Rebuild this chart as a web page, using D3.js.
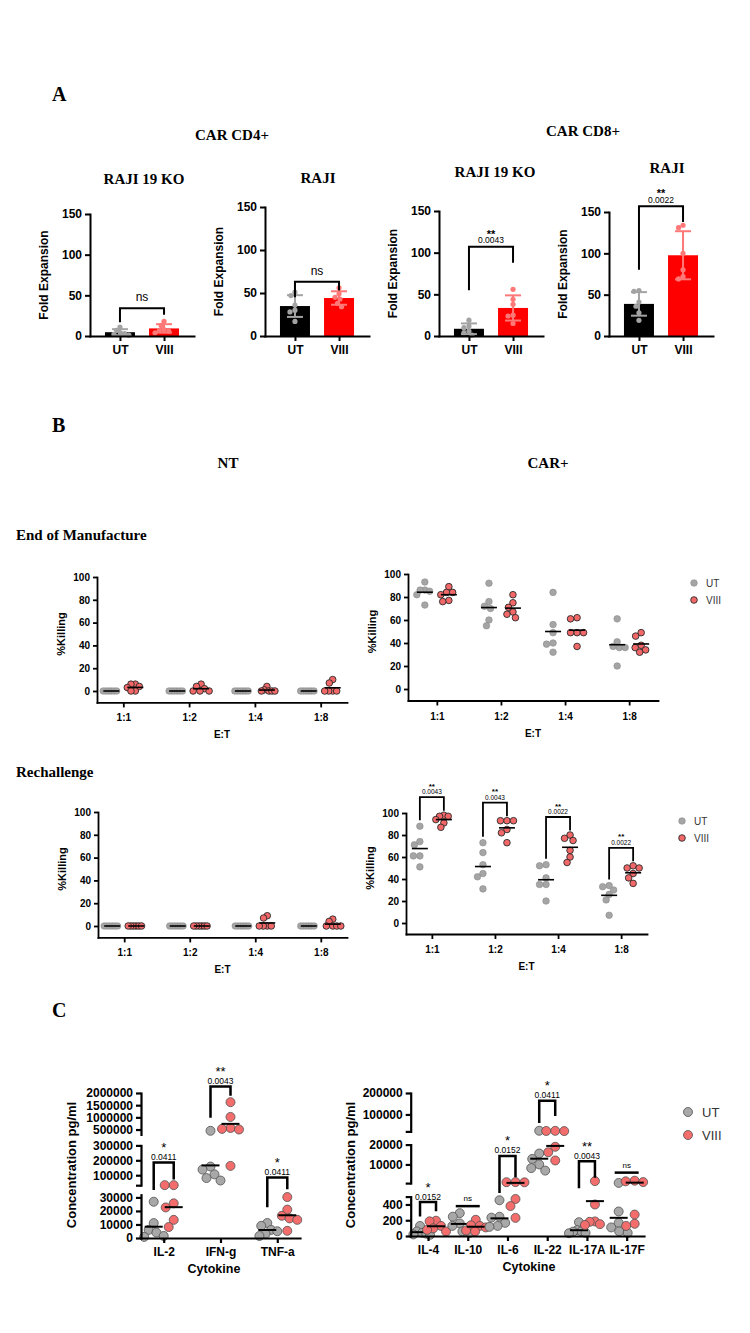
<!DOCTYPE html>
<html><head><meta charset="utf-8">
<script src="https://cdn.jsdelivr.net/npm/d3@7"></script>
<style>body{margin:0;background:#fff}</style>
</head><body>
<script>
// ================= DATA =================
// Panel A : fold expansion
const groupsA = ["UT", "VIII"];
const foldTicks = [0, 50, 100, 150];
const cd4KoUT = [11, 7, 4, 3, 2, 1];
const cd4KoVIII = [18, 13, 8, 7, 6, 4];
const cd4RajiUT = [51, 47, 36, 30, 28, 17];
const cd4RajiVIII = [56, 49, 45, 43, 38, 34];
const cd8KoUT = [19, 12, 10, 6, 4, 1];
const cd8KoVIII = [56, 44, 38, 25, 24, 15];
const cd8RajiUT = [55, 54, 41, 36, 28, 19];
const cd8RajiVIII = [134, 131, 100, 80, 72, 69];
const sigA = [{stars: "ns", p: ""}, {stars: "ns", p: ""}, {stars: "**", p: "0.0043"}, {stars: "**", p: "0.0022"}];
// bracket levels (fold units): top, UT leg end, VIII leg end
const bracketA = [[34, 17, 26], [63, 45, 53], [107, 55, 88], [157, 80, 138]];

// Panel B : % killing
const ratios = ["1:1", "1:2", "1:4", "1:8"];
const killTicks = [0, 20, 40, 60, 80, 100];
const eomNtUT = [[0,0,0,0,0,0],[0,0,0,0,0,0],[0,0,0,0,0,0],[0,0,0,0,0,0]];
const eomNtVIII = [[6,6,4,3,0,0],[6,4,2,0,0,0],[4,1,0,0,0,0],[10,7,0,0,0,0]];
const eomCarUT = [[93,86,86,85,82,73],[92,76,72,70,60,55],[84,56,49,40,39,32],[61,41,37,36,36,20]];
const eomCarVIII = [[89,84,84,82,77,76],[82,75,71,67,65,62],[62,61,49,49,49,37],[49,46,38,36,34,32]];
const reNtUT = [[0,0,0,0,0,0],[0,0,0,0,0,0],[0,0,0,0,0,0],[0,0,0,0,0,0]];
const reNtVIII = [[0,0,0,0,0,0],[0,0,0,0,0,0],[9,7,0,0,0,0],[6,4,0,0,0,0]];
const reCarUT = [[88,74,71,61,61,51],[73,64,53,45,42,31],[53,52,41,35,35,20],[34,33,30,26,21,7]];
const reCarVIII = [[98,97,97,94,91,87],[93,93,93,85,82,73],[80,77,75,66,60,55],[52,50,50,45,41,36]];
const sigReCarStars = ["**", "**", "**", "**"];
const sigReCarP = ["0.0043", "0.0043", "0.0022", "0.0022"];

// Panel C : cytokines
const cytoLeft = ["IL-2", "IFN-g", "TNF-a"];
const cLeftUT = [[26800,11000,6000,4000,1500,800],[448000,158000,137500,106000,81000,64600],[11100,9000,6000,5000,3000,1500]];
const cLeftVIII = [[33500,33500,25600,22600,13400,8100],[1624000,1017000,565000,526000,500000,162500],[30250,21000,16400,14500,13400,5300]];
const cLeftBreaks = [[0, 32000], [33000, 300000], [300000, 2000000]];
const cLeftTicks = [[0,10000,20000,30000],[100000,200000,300000],[500000,1000000,1500000,2000000]];
const cLeftSig = [{stars:"*", p:"0.0411", top:186000, l:32500, r:70600},
                  {stars:"**", p:"0.0043", top:2270000, l:980000, r:1885000},
                  {stars:"*", p:"0.0411", top:85300, l:22760, r:32570}];
const cytoRight = ["IL-4", "IL-10", "IL-6", "IL-22", "IL-17A", "IL-17F"];
const cRightUT = [[128,58,40,30,20,15],[290,245,160,128,58,39],[454,245,233,167,128,116],[24000,15500,12800,10000,8150,6900],[175,75,60,55,40,35],[700,311,167,109,58,39]];
const cRightVIII = [[194,186,128,97,78,58],[206,136,128,109,70,58],[1100,1050,1000,470,380,230],[23500,23000,22500,18900,16150,12000],[1600,400,185,180,150,140],[1800,1500,1100,272,155,128]];
const cRightBreaks = [[0, 500], [600, 20000], [21000, 200000]];
const cRightTicks = [[0,200,400],[10000,20000],[100000,200000]];
const cRightSig = [{stars:"*", p:"0.0152", top:430, l:246, r:313},
                   {stars:"ns", p:"", top:379},
                   {stars:"*", p:"0.0152", top:14260, l:527, r:3600},
                   {stars:"*", p:"0.0411", top:164300, l:59700, r:92400},
                   {stars:"**", p:"0.0043", top:11670, l:561, r:3330},
                   {stars:"ns", p:"", top:5880}];
const legendLabels = ["UT", "VIII"];

// ================= HELPERS =================
const SERIF = "'Liberation Serif','Times New Roman',serif";
const SANS = "'Liberation Sans',Arial,sans-serif";
const svg = d3.select("body").append("svg").attr("width", 750).attr("height", 1333);

function txt(x, y, s, o = {}) {
  return svg.append("text").attr("x", x).attr("y", y).text(s)
    .attr("font-family", o.family || SANS).attr("font-size", o.size || 12)
    .attr("font-weight", o.weight || "normal").attr("text-anchor", o.anchor || "start")
    .attr("fill", o.fill || "#000");
}
function vtxt(x, y, s, o = {}) {
  return svg.append("text").attr("transform", `translate(${x},${y}) rotate(-90)`).text(s)
    .attr("font-family", SANS).attr("font-size", o.size || 12).attr("font-weight", "bold")
    .attr("text-anchor", "middle").attr("fill", "#000");
}
// stars + p-value as one text element (two lines)
function sigText(x, top, stars, p, o) {
  const t = svg.append("text").attr("text-anchor", "middle").attr("font-family", SANS).attr("fill", "#000");
  t.append("tspan").attr("x", x).attr("y", top - o.sDy).attr("font-size", o.sSize)
    .attr("font-weight", o.sWeight || "bold").text(stars);
  t.append("tspan").attr("x", x).attr("y", top - o.pDy).attr("font-size", o.pSize)
    .attr("font-weight", "normal").text(p);
}
function swarm(vals, yf, r, maxOff) {
  const pts = vals.map(v => ({v, y: yf(v), x: 0}));
  const order = pts.slice().sort((a, b) => a.y - b.y);
  const placed = [];
  const d2 = (2 * r) * (2 * r) * 0.9;
  order.forEach(p => {
    let off = 0;
    for (let s = 0; s < 400; s++) {
      const o = (s % 2 === 0 ? 1 : -1) * Math.ceil(s / 2) * 0.5;
      if (placed.every(q => (o - q.x) ** 2 + (p.y - q.y) ** 2 >= d2)) { off = o; break; }
    }
    p.x = off; placed.push(p);
  });
  const m = d3.max(pts, p => Math.abs(p.x)) || 0;
  if (m > maxOff) pts.forEach(p => p.x *= maxOff / m);
  return pts;
}
function styleAxis(g, fs, sw) {
  g.attr("font-family", null).attr("font-size", null);
  g.selectAll("path.domain").attr("stroke", "#000").attr("stroke-width", sw).attr("stroke-linecap", "square");
  g.selectAll(".tick line").attr("stroke", "#000").attr("stroke-width", sw);
  g.selectAll(".tick text").attr("font-family", SANS).attr("font-size", fs).attr("font-weight", "bold").attr("fill", "#000");
}
function piecewise(breaks, ranges) {
  const sc = breaks.map((b, i) => d3.scaleLinear().domain(b).range(ranges[i]));
  return v => {
    for (let i = 0; i < breaks.length; i++) {
      if (v <= breaks[i][1] || i === breaks.length - 1) {
        if (v >= breaks[i][0] || i === 0) return sc[i](v);
        return d3.scaleLinear().domain([breaks[i - 1][1], breaks[i][0]]).range([ranges[i - 1][1], ranges[i][0]])(v);
      }
    }
  };
}

// ================= PANEL A =================
txt(52, 101, "A", {family: SERIF, size: 20, weight: "bold"});
txt(232, 140, "CAR CD4+", {family: SERIF, size: 15, weight: "bold", anchor: "middle"});
txt(583, 136, "CAR CD8+", {family: SERIF, size: 15, weight: "bold", anchor: "middle"});

const layoutA = [
  {title: "RAJI 19 KO", tx: 144, ty: 184, x0: 90, yTop: 214, yZero: 336, ut: cd4KoUT, viii: cd4KoVIII},
  {title: "RAJI", tx: 318, ty: 183, x0: 265, yTop: 207, yZero: 336, ut: cd4RajiUT, viii: cd4RajiVIII},
  {title: "RAJI 19 KO", tx: 495, ty: 177, x0: 439, yTop: 211, yZero: 336, ut: cd8KoUT, viii: cd8KoVIII},
  {title: "RAJI", tx: 667, ty: 173, x0: 609, yTop: 212, yZero: 336, ut: cd8RajiUT, viii: cd8RajiVIII},
];
layoutA.forEach((c, i) => {
  txt(c.tx, c.ty, c.title, {family: SERIF, size: 15, weight: "bold", anchor: "middle"});
  const y = d3.scaleLinear().domain([0, 150]).range([c.yZero, c.yTop]);
  const x = d3.scalePoint().domain(groupsA).range([c.x0, c.x0 + 104]).padding(0.68);
  const g = svg.append("g");
  [c.ut, c.viii].forEach((vals, k) => {
    const m = d3.mean(vals), sd = d3.deviation(vals);
    const cx = x(groupsA[k]);
    g.append("rect").attr("x", cx - 15).attr("width", 30).attr("y", y(m)).attr("height", y(0) - y(m))
      .attr("fill", k ? "#ff0000" : "#000000");
    const ec = k ? "#ff7878" : "#a3a3a3";
    g.append("line").attr("x1", cx).attr("x2", cx).attr("y1", y(Math.max(0, m - sd))).attr("y2", y(m + sd))
      .attr("stroke", ec).attr("stroke-width", 2);
    [m + sd, m - sd].forEach(v => {
      if (v < 0) return;
      g.append("line").attr("x1", cx - 8).attr("x2", cx + 8).attr("y1", y(v)).attr("y2", y(v))
        .attr("stroke", ec).attr("stroke-width", 2);
    });
    swarm(vals, y, 2.6, 9).forEach(p => {
      g.append("circle").attr("cx", cx + p.x).attr("cy", p.y).attr("r", 2.6).attr("fill", ec);
    });
  });
  const ay = svg.append("g").attr("transform", `translate(${c.x0},0)`)
    .call(d3.axisLeft(y).tickValues(foldTicks).tickSize(5).tickSizeOuter(0).tickPadding(3));
  styleAxis(ay, 12, 2);
  const ax = svg.append("g").attr("transform", `translate(0,${c.yZero})`)
    .call(d3.axisBottom(x).tickSize(5).tickSizeOuter(0).tickPadding(4));
  styleAxis(ax, 12, 2);
  vtxt(c.x0 - 42, (c.yTop + c.yZero) / 2, "Fold Expansion", {size: 12});
  const b = bracketA[i], s = sigA[i];
  const xl = x(groupsA[0]), xr = x(groupsA[1]);
  svg.append("path").attr("d", `M${xl},${y(b[1])}V${y(b[0])}H${xr}V${y(b[2])}`)
    .attr("fill", "none").attr("stroke", "#000").attr("stroke-width", 2);
  const mx = (xl + xr) / 2;
  if (s.p) sigText(mx, y(b[0]), s.stars, s.p, {sSize: 11, sDy: 9, pSize: 8.5, pDy: 3.5});
  else txt(mx, y(b[0]) - 7, s.stars, {size: 12, anchor: "middle"});
});

// ================= PANEL B =================
txt(52, 432, "B", {family: SERIF, size: 20, weight: "bold"});
txt(228, 468, "NT", {family: SERIF, size: 15, weight: "bold", anchor: "middle"});
txt(548, 468, "CAR+", {family: SERIF, size: 15, weight: "bold", anchor: "middle"});
txt(16, 540, "End of Manufacture", {family: SERIF, size: 15, weight: "bold"});
txt(16, 777, "Rechallenge", {family: SERIF, size: 15, weight: "bold"});

const layoutB = [
  {x0: 97, xEnd: 347, pad: 0.4, y0: 691, y100: 577, ut: eomNtUT, viii: eomNtVIII},
  {x0: 408, xEnd: 658, pad: 0.45, y0: 689, y100: 574, ut: eomCarUT, viii: eomCarVIII, legend: [694, 583]},
  {x0: 98, xEnd: 347, pad: 0.4, y0: 926, y100: 812, ut: reNtUT, viii: reNtVIII},
  {x0: 406, xEnd: 647, pad: 0.41, y0: 923, y100: 813, ut: reCarUT, viii: reCarVIII, legend: [682, 821], sig: true},
];
const UTF = "#a5a5a5", VF = "#f26868";
layoutB.forEach(c => {
  const y = d3.scaleLinear().domain([0, 100]).range([c.y0, c.y100]);
  const x = d3.scalePoint().domain(ratios).range([c.x0, c.xEnd]).padding(c.pad);
  const g = svg.append("g");
  ratios.forEach((r, j) => {
    [c.ut[j], c.viii[j]].forEach((vals, k) => {
      const cx = x(r) + (k ? 12 : -12);
      swarm(vals, y, 3.3, 8).forEach(p => {
        g.append("circle").attr("cx", cx + p.x).attr("cy", p.y).attr("r", 3.3)
          .attr("fill", k ? VF : UTF).attr("stroke", k ? "#2a2a2a" : "#8c8c8c").attr("stroke-width", k ? 0.9 : 0.6);
      });
      const m = d3.mean(vals);
      g.append("line").attr("x1", cx - 8).attr("x2", cx + 8).attr("y1", y(m)).attr("y2", y(m))
        .attr("stroke", "#000").attr("stroke-width", 1.6);
    });
    if (c.sig) {
      const xl = x(r) - 12, xr = x(r) + 12;
      const yl = y(d3.max(c.ut[j])) - 6, yr = y(d3.max(c.viii[j])) - 4.5;
      const top = y(d3.max(c.viii[j])) - 18;
      g.append("path").attr("d", `M${xl},${yl}V${top}H${xr}V${yr}`)
        .attr("fill", "none").attr("stroke", "#000").attr("stroke-width", 1.8);
      sigText(x(r), top, sigReCarStars[j], sigReCarP[j], {sSize: 8, sDy: 8.5, pSize: 6.5, pDy: 3});
    }
  });
  const yAx = d3.scaleLinear().domain([-10, 100]).range([c.y0 + (c.y0 - c.y100) / 10, c.y100]);
  const ay = svg.append("g").attr("transform", `translate(${c.x0},0)`)
    .call(d3.axisLeft(yAx).tickValues(killTicks).tickSize(4).tickSizeOuter(0).tickPadding(3));
  styleAxis(ay, 10, 1.8);
  const ax = svg.append("g").attr("transform", `translate(0,${yAx(-10)})`)
    .call(d3.axisBottom(x).tickSize(5).tickSizeOuter(0).tickPadding(7));
  styleAxis(ax, 10, 1.8);
  vtxt(c.x0 - 32, (c.y100 + c.y0) / 2, "%Killing", {size: 11});
  txt((c.x0 + c.xEnd) / 2, yAx(-10) + 36, "E:T", {size: 10, weight: "bold", anchor: "middle"});
  if (c.legend) {
    const [lx, ly] = c.legend;
    legendLabels.forEach((lab, k) => {
      svg.append("circle").attr("cx", lx).attr("cy", ly + k * 17).attr("r", 3.3)
        .attr("fill", k ? VF : UTF).attr("stroke", k ? "#2a2a2a" : "#8c8c8c").attr("stroke-width", k ? 0.9 : 0.6);
      txt(lx + 12, ly + k * 17 + 3.5, lab, {size: 10, fill: "#333"});
    });
  }
});

// ================= PANEL C =================
txt(52, 1017, "C", {family: SERIF, size: 20, weight: "bold"});
const layoutC = [
  {x0: 141, xEnd: 300, pad: 0.4, off: 10, cats: cytoLeft, ut: cLeftUT, viii: cLeftVIII,
   breaks: cLeftBreaks, ticks: cLeftTicks, ranges: [[1238, 1194.7], [1185.2, 1145.4], [1134.4, 1093]],
   sig: cLeftSig, ylab: [76, 1165], cyto: 214},
  {x0: 410.7, xEnd: 644, pad: 0.436, off: 8, cats: cytoRight, ut: cRightUT, viii: cRightVIII,
   breaks: cRightBreaks, ticks: cRightTicks, ranges: [[1236, 1196.6], [1183.1, 1144.6], [1131.4, 1093]],
   sig: cRightSig, ylab: [355, 1165], cyto: 529},
];
const CUT = "#a8a8a8", CVF = "#f36d6d";
layoutC.forEach(c => {
  const y = piecewise(c.breaks, c.ranges);
  const x = d3.scalePoint().domain(c.cats).range([c.x0, c.xEnd]).padding(c.pad);
  const g = svg.append("g");
  c.cats.forEach((cat, j) => {
    [c.ut[j], c.viii[j]].forEach((vals, k) => {
      const cx = x(cat) + (k ? c.off : -c.off);
      swarm(vals, y, 4.5, 10).forEach(p => {
        g.append("circle").attr("cx", cx + p.x).attr("cy", p.y).attr("r", 4.5)
          .attr("fill", k ? CVF : CUT).attr("stroke", "#505050").attr("stroke-width", 0.8);
      });
      const m = d3.mean(vals);
      g.append("line").attr("x1", cx - 9).attr("x2", cx + 9).attr("y1", y(m)).attr("y2", y(m))
        .attr("stroke", "#000").attr("stroke-width", 2);
    });
    const s = c.sig[j];
    const xl = x(cat) - c.off, xr = x(cat) + c.off, mx = x(cat);
    if (s.p) {
      svg.append("path").attr("d", `M${xl},${y(s.l)}V${y(s.top)}H${xr}V${y(s.r)}`)
        .attr("fill", "none").attr("stroke", "#000").attr("stroke-width", 2.5);
      sigText(mx, y(s.top), s.stars, s.p, {sSize: 13, sDy: 10.5, sWeight: "normal", pSize: 8.5, pDy: 2.5});
    } else {
      svg.append("line").attr("x1", xl - 4).attr("x2", xr + 4).attr("y1", y(s.top)).attr("y2", y(s.top))
        .attr("stroke", "#000").attr("stroke-width", 2.5);
      txt(mx, y(s.top) - 5, s.stars, {size: 8, anchor: "middle"});
    }
  });
  c.breaks.forEach((b, i) => {
    const sc = d3.scaleLinear().domain(b).range(c.ranges[i]);
    const lab = c.ticks[i];
    const ends = b.filter(v => !lab.some(t => Math.abs(sc(t) - sc(v)) < 5));
    const ay = svg.append("g").attr("transform", `translate(${c.x0},0)`)
      .call(d3.axisLeft(sc).tickValues(lab.concat(ends)).tickSize(5).tickSizeOuter(0).tickPadding(3)
        .tickFormat(v => lab.includes(v) ? d3.format("d")(v) : ""));
    styleAxis(ay, 12, 2.2);
  });
  const ax = svg.append("g").attr("transform", `translate(0,${c.ranges[0][0]})`)
    .call(d3.axisBottom(x).tickSize(5).tickSizeOuter(0).tickPadding(4));
  styleAxis(ax, 12, 2.2);
  vtxt(c.ylab[0], c.ylab[1], "Concentration pg/ml", {size: 13});
  txt(c.cyto, c.ranges[0][0] + 35, "Cytokine", {size: 12.5, weight: "bold", anchor: "middle"});
});
legendLabels.forEach((lab, k) => {
  svg.append("circle").attr("cx", 688).attr("cy", 1112 + k * 23).attr("r", 4.5)
    .attr("fill", k ? CVF : CUT).attr("stroke", "#505050").attr("stroke-width", 0.8);
  txt(702, 1112 + k * 23 + 4.5, lab, {size: 13, fill: "#333"});
});
</script>
</body></html>
